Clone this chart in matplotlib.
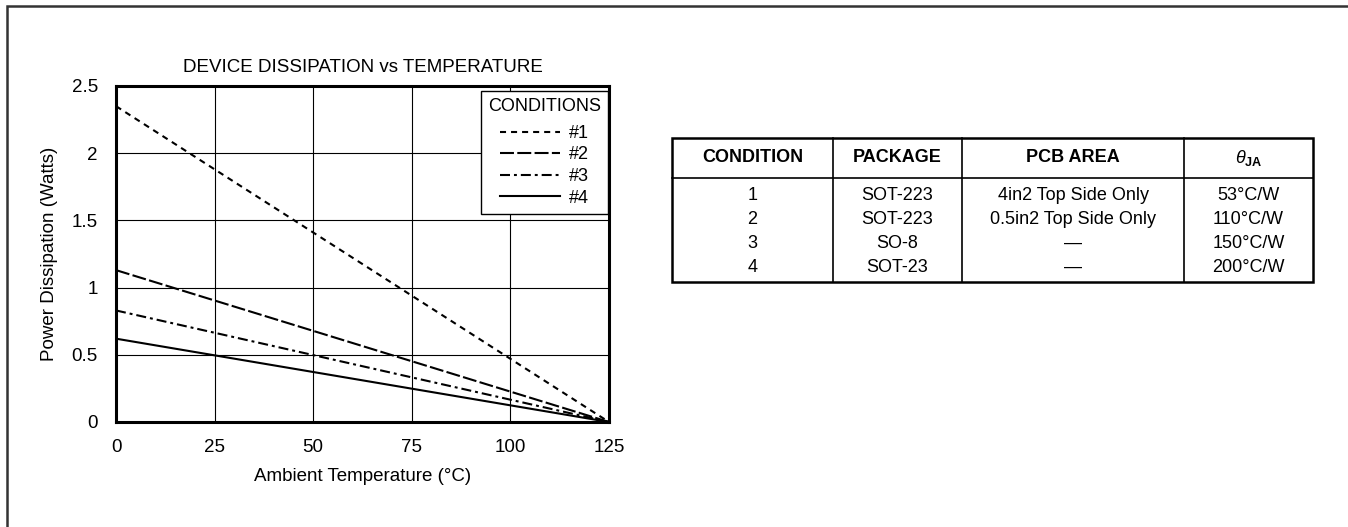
import matplotlib
matplotlib.use("Agg")
import matplotlib.pyplot as plt
from matplotlib.patches import Rectangle

# Datos
temperatura = [0, 125]
disipacion_1 = [2.35, 0.0]
disipacion_2 = [1.13, 0.0]
disipacion_3 = [0.83, 0.0]
disipacion_4 = [0.62, 0.0]
etiquetas = ["#1", "#2", "#3", "#4"]

x_ticks = [0, 25, 50, 75, 100, 125]
y_ticks = [0, 0.5, 1, 1.5, 2, 2.5]
y_tick_labels = ["0", "0.5", "1", "1.5", "2", "2.5"]

cabecera = ["CONDITION", "PACKAGE", "PCB AREA", r"$\it{\theta}_{\bf{JA}}$"]
condicion = ["1", "2", "3", "4"]
paquete = ["SOT-223", "SOT-223", "SO-8", "SOT-23"]
area_pcb = ["4in2 Top Side Only", "0.5in2 Top Side Only", "\u2014", "\u2014"]
theta_ja = ["53\u00b0C/W", "110\u00b0C/W", "150\u00b0C/W", "200\u00b0C/W"]

plt.rcParams["font.family"] = ["Liberation Sans", "DejaVu Sans"]
plt.rcParams["mathtext.fontset"] = "custom"
plt.rcParams["mathtext.it"] = "Liberation Sans:italic"
plt.rcParams["mathtext.bf"] = "Liberation Sans:bold"
plt.rcParams["mathtext.rm"] = "Liberation Sans"

W, H = 1348, 527
fig = plt.figure(figsize=(W / 100, H / 100), dpi=100)

# Marco exterior (solo se ven el borde superior e izquierdo)
fig.patches.append(Rectangle((7 / W, -0.1), 1.2, 1.1 - 6 / H,
                             transform=fig.transFigure, fill=False,
                             edgecolor="#333333", linewidth=1.8))

# Grafico principal
ax = fig.add_axes([116 / W, 1 - 422 / H, (609 - 116) / W, (422 - 86) / H])
fs = 13
fs_ejes = 13.5
ax.plot(temperatura, disipacion_1, color="black", linewidth=1.5,
        dashes=(2.9, 2.4), label=etiquetas[0])
ax.plot(temperatura, disipacion_2, color="black", linewidth=1.5,
        dashes=(6.7, 1.6), label=etiquetas[1])
ax.plot(temperatura, disipacion_3, color="black", linewidth=1.5,
        dashes=(4.8, 1.9, 1.4, 1.9), label=etiquetas[2])
ax.plot(temperatura, disipacion_4, color="black", linewidth=1.5,
        label=etiquetas[3])

ax.set_xlim(0, 125)
ax.set_ylim(0, 2.5)
ax.set_xticks(x_ticks)
ax.set_yticks(y_ticks)
ax.set_yticklabels(y_tick_labels)
ax.tick_params(length=0, labelsize=fs_ejes)
ax.tick_params(axis="y", pad=13)
ax.tick_params(axis="x", pad=12)
ax.grid(True, color="black", linewidth=0.8)
for s in ax.spines.values():
    s.set_linewidth(2.2)

ax.set_title("DEVICE DISSIPATION vs TEMPERATURE", fontsize=fs_ejes, pad=10)
ax.set_xlabel("Ambient Temperature (\u00b0C)", fontsize=fs_ejes, labelpad=9)
ax.set_ylabel("Power Dissipation (Watts)", fontsize=fs_ejes, labelpad=10)

leg = ax.legend(title="CONDITIONS", loc="upper right",
                bbox_to_anchor=(0.998, 0.985), fontsize=fs,
                title_fontsize=fs, fancybox=False, edgecolor="black",
                framealpha=1, handlelength=3.3, handletextpad=0.5,
                labelspacing=0.25, borderpad=0.4, borderaxespad=0)
leg._legend_box.sep = 7
leg.get_frame().set_linewidth(1.0)

# Tabla de condiciones
tb = fig.add_axes([0, 0, 1, 1])
tb.set_xlim(0, W)
tb.set_ylim(H, 0)
tb.axis("off")
cols = [672, 833, 962, 1184, 1313]
top, head, bottom = 138, 178, 282
tb.add_patch(Rectangle((cols[0], top), cols[-1] - cols[0], bottom - top,
                       fill=False, edgecolor="black", linewidth=1.8))
for c in cols[1:-1]:
    tb.plot([c, c], [top, bottom], color="black", linewidth=1.2)
tb.plot([cols[0], cols[-1]], [head, head], color="black", linewidth=1.2)

for i, txt in enumerate(cabecera):
    cx = (cols[i] + cols[i + 1]) / 2
    tb.text(cx, (top + head) / 2, txt, ha="center", va="center",
            fontsize=fs, fontweight="bold")

filas_y = [195, 219, 243, 267]
for j in range(4):
    fila = [condicion[j], paquete[j], area_pcb[j], theta_ja[j]]
    for i, txt in enumerate(fila):
        cx = (cols[i] + cols[i + 1]) / 2
        tb.text(cx, filas_y[j], txt, ha="center", va="center", fontsize=fs)

plt.savefig("out.png", dpi=100)
plt.close()
